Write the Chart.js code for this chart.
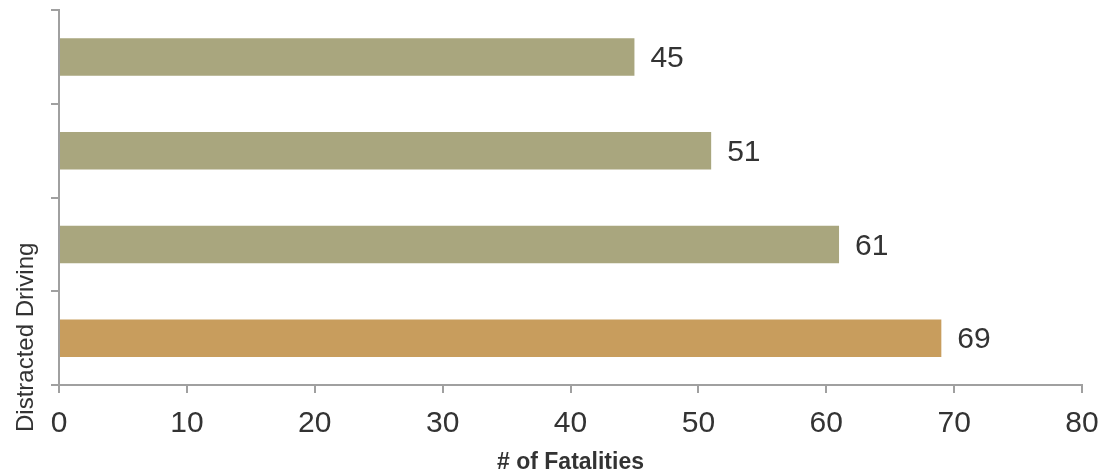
<!DOCTYPE html>
<html>
<head>
<meta charset="utf-8">
<script src="https://cdn.jsdelivr.net/npm/chart.js@4/dist/chart.umd.min.js"></script>
<style>
  html, body { margin: 0; padding: 0; background: #ffffff; }
  #wrap { position: relative; width: 1115px; height: 476px; }
</style>
</head>
<body>
<div id="wrap"><canvas id="c" width="1115" height="476"></canvas></div>
<script>
const categories = ["", "", "", ""];
const fatalities = [45, 51, 61, 69];
const barColors = ["#A9A67E", "#A9A67E", "#A9A67E", "#C89D5D"];
const xTicks = [0, 10, 20, 30, 40, 50, 60, 70, 80];
const yAxisTitle = "Distracted Driving";
const xAxisTitle = "# of Fatalities";

const textColor = "#333333";
const axisColor = "#A0A0A0";
const FONT = "'Liberation Sans', Arial, sans-serif";

const valueLabels = {
  id: 'valueLabels',
  afterDatasetsDraw(chart) {
    const ctx = chart.ctx;
    const meta = chart.getDatasetMeta(0);
    ctx.save();
    ctx.font = "30px " + FONT;
    ctx.fillStyle = textColor;
    ctx.textAlign = 'left';
    ctx.textBaseline = 'middle';
    meta.data.forEach((bar, i) => {
      ctx.fillText(String(fatalities[i]), bar.x + 16, bar.y + 2);
    });
    ctx.restore();
  }
};

const yTitle = {
  id: 'yTitle',
  afterDraw(chart) {
    const ctx = chart.ctx;
    const ca = chart.chartArea;
    ctx.save();
    ctx.font = "24px " + FONT;
    ctx.fillStyle = textColor;
    ctx.translate(33, ca.bottom + 47);
    ctx.rotate(-Math.PI / 2);
    ctx.textAlign = 'left';
    ctx.textBaseline = 'alphabetic';
    ctx.fillText(yAxisTitle, 0, 0);
    ctx.restore();
  }
};

new Chart(document.getElementById('c'), {
  type: 'bar',
  data: {
    labels: categories,
    datasets: [{
      data: fatalities,
      backgroundColor: barColors,
      borderWidth: 0,
      barPercentage: 0.4,
      categoryPercentage: 1.0
    }]
  },
  plugins: [valueLabels, yTitle],
  options: {
    indexAxis: 'y',
    responsive: false,
    animation: false,
    devicePixelRatio: 1,
    layout: { padding: { top: 10, right: 33, left: 0, bottom: 0 } },
    plugins: {
      legend: { display: false },
      tooltip: { enabled: false }
    },
    scales: {
      x: {
        min: 0,
        max: 80,
        afterBuildTicks(scale) { scale.ticks = xTicks.map(v => ({ value: v })); },
        afterFit(scale) { scale.height = 91; },
        grid: {
          drawOnChartArea: false,
          drawTicks: true,
          tickLength: 8,
          color: axisColor,
          lineWidth: 2
        },
        border: { display: true, color: axisColor, width: 2 },
        ticks: {
          color: textColor,
          font: { size: 30, family: FONT },
          padding: 13,
          maxRotation: 0
        },
        title: {
          display: true,
          text: xAxisTitle,
          color: textColor,
          font: { size: 23, weight: 'bold', family: FONT },
          padding: { top: 0, bottom: 0 }
        }
      },
      y: {
        offset: true,
        afterFit(scale) { scale.width = 59; },
        grid: {
          offset: true,
          drawOnChartArea: false,
          drawTicks: true,
          tickLength: 8,
          color: axisColor,
          lineWidth: 2
        },
        border: { display: true, color: axisColor, width: 2 },
        ticks: { display: true, font: { size: 1 } }
      }
    }
  }
});
</script>
</body>
</html>
